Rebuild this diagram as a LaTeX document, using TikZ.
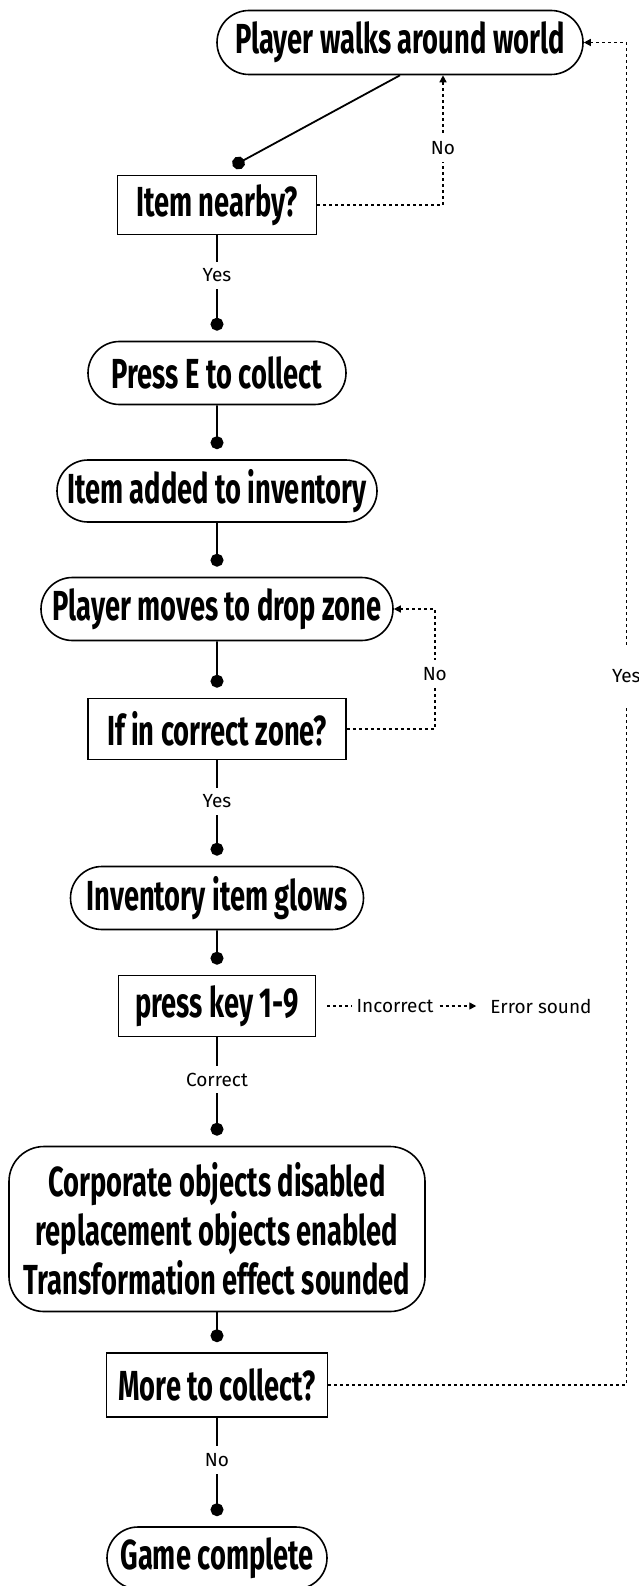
\documentclass[tikz,border=0pt]{standalone}
\usepackage{fontspec}
\setmainfont{Fira Sans}
\newfontfamily\boxfont{Fira Sans}[FakeStretch=0.65]
\usetikzlibrary{arrows.meta,shapes.misc}

\tikzset{
  pill/.style={rounded rectangle, draw, line width=1.6pt, inner sep=0pt,
    font=\boxfont\bfseries\fontsize{42}{49}\selectfont},
  query/.style={rectangle, draw, line width=1.6pt, inner sep=0pt,
    font=\boxfont\bfseries\fontsize{42}{49}\selectfont},
  flow/.style={line width=1.8pt, -{Circle[length=13pt]}, shorten >=10pt},
  loopback/.style={line width=1.4pt, dash pattern=on 3pt off 3pt,
    -{Triangle[length=7pt,width=7pt]}},
  tag/.style={fill=white, font=\fontsize{19}{22}\selectfont, inner sep=7pt}
}

\begin{document}
\begin{tikzpicture}[x=1pt,y=-1pt]
    \useasboundingbox (0,0) rectangle (639,1586);

    % Steps of the game loop
    \node[pill, minimum width=366pt, minimum height=64pt] (world) at (400,42.5) {Player walks around world};
    \node[query, minimum width=199pt, minimum height=59pt] (item) at (217,205) {Item nearby?};
    \node[pill, minimum width=258pt, minimum height=63pt] (collect) at (217,373) {Press E to collect};
    \node[pill, minimum width=320pt, minimum height=62pt] (added) at (217,491) {Item added to inventory};
    \node[pill, minimum width=352pt, minimum height=63pt] (drop) at (217,609) {Player moves to drop zone};
    \node[query, minimum width=258pt, minimum height=61pt] (zone) at (217,729) {If in correct zone?};
    \node[pill, minimum width=293pt, minimum height=63pt] (glows) at (217,898) {Inventory item glows};
    \node[query, minimum width=197pt, minimum height=61pt] (press) at (217,1006) {press key 1-9};
    \node[query, rounded corners=35pt, minimum width=416pt, minimum height=165pt, align=center] (swap) at (217,1229)
      {Corporate objects disabled\\replacement objects enabled\\Transformation effect sounded};
    \node[query, minimum width=221pt, minimum height=64pt] (more) at (217,1385) {More to collect?};
    \node[pill, minimum width=220pt, minimum height=62pt] (done) at (217,1558) {Game complete};

    % Side texts
    \node[tag, inner sep=4pt] (incorrect) at (395,1006) {Incorrect};
    \node[tag, inner sep=4pt] (errsound) at (541,1006) {Error sound};

    % Main flow
    \draw[flow, shorten >=18pt] (world.south) -- (item.north);
    \draw[flow] (item) -- node[tag, pos=0.38] {Yes} (collect);
    \draw[flow] (collect) -- (added);
    \draw[flow] (added) -- (drop);
    \draw[flow] (drop) -- (zone);
    \draw[flow] (zone) -- node[tag, pos=0.39] {Yes} (glows);
    \draw[flow] (glows) -- (press);
    \draw[flow] (press) -- node[tag, pos=0.39] {Correct} (swap);
    \draw[flow] (swap) -- (more);
    \draw[flow] (more) -- node[tag, pos=0.39] {No} (done);

    % Going back
    \draw[loopback] (item.east) -| node[tag, pos=0.72] {No} ([xshift=43pt]world.south);
    \draw[loopback] (zone.east) -- ++(88,0) |- node[tag, pos=0.23] {No} (drop.east);
    \draw[loopback] (more.east) -- ++(298,0) |- node[tag, pos=0.264, inner ysep=24pt] {Yes} (world.east);
    \draw[loopback, -, shorten <=11pt] (press.east) -- (incorrect.west);
    \draw[loopback, shorten <=2pt, shorten >=10pt] (incorrect.east) -- (errsound.west);
\end{tikzpicture}
\end{document}
